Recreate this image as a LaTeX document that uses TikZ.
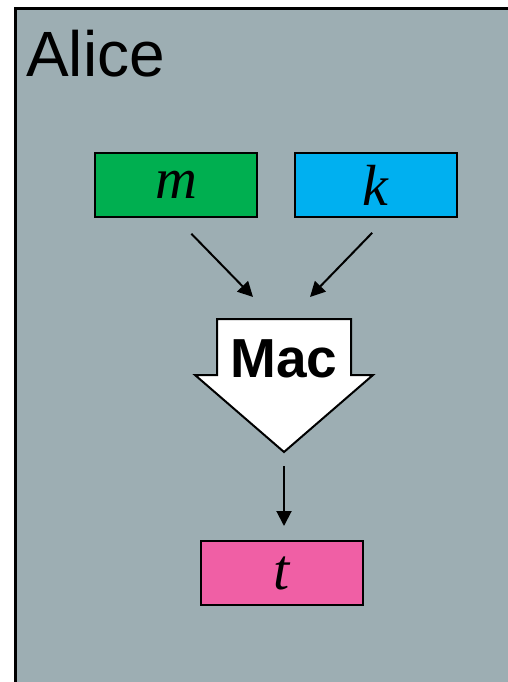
\documentclass[tikz,border=0pt]{standalone}
\usepackage{fontspec}
\setmainfont{Liberation Serif}
\newfontfamily\arial{Liberation Sans}
\usetikzlibrary{arrows.meta}
\definecolor{panel}{RGB}{157,174,179}
\definecolor{mgreen}{RGB}{0,175,80}
\definecolor{kblue}{RGB}{0,176,240}
\definecolor{tpink}{RGB}{240,95,165}
\tikzset{
  valbox/.style={draw=black, line width=2pt, minimum width=162pt, minimum height=64pt, inner sep=0pt, font=\fontsize{58}{60}\selectfont\itshape},
  conn/.style={draw=black, line width=2pt, -{Triangle[length=15pt,width=15pt]}},
}
\begin{document}
\begin{tikzpicture}[x=1pt,y=-1pt]
\useasboundingbox (0,0) rectangle (508,682);
\begin{scope}
\clip (0,0) rectangle (508,682);
\draw[line width=3pt, fill=panel] (15,9) rectangle (530,700);
\end{scope}
\node[anchor=base west, inner sep=0pt, font=\arial\fontsize{64}{66}\selectfont] (alice) at (26,77) {Alice};
\node[valbox, fill=mgreen] (m) at (176,185) {m};
\node[valbox, fill=kblue] (k) at (375.5,185) {k};
\node[valbox, fill=tpink] (t) at (281.5,573) {t};
\draw[line width=2pt, fill=white, line join=miter] (217,319) -- (351,319) -- (351,375) -- (373,375) -- (284,452) -- (195,375) -- (217,375) -- cycle;
\node[anchor=base, inner sep=0pt, font=\arial\bfseries\fontsize{55}{60}\selectfont] (mac) at (284,377) {Mac};
\coordinate (macL) at (253,297);
\coordinate (macR) at (310,297);
\coordinate (macTip) at (284,452);
\coordinate (kS) at (387.5,217);
\draw[conn, shorten <=22pt] (m.south) -- (macL);
\draw[conn, shorten <=22pt] (kS) -- (macR);
\draw[conn, shorten <=14pt, shorten >=14pt] (macTip) -- (t.north -| macTip);
\end{tikzpicture}
\end{document}
